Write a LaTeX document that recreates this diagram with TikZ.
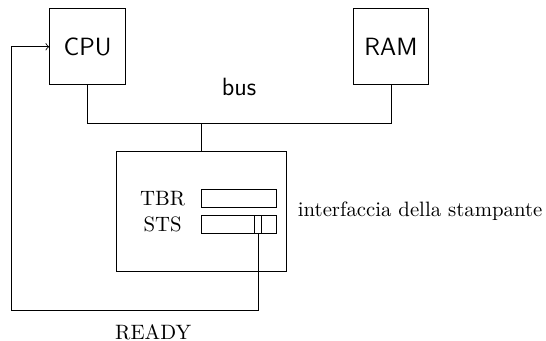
\documentclass[tikz,border=0pt]{standalone}
\usepackage{tikz}
\usetikzlibrary{arrows}
\usetikzlibrary{positioning,calc}
\tikzstyle{unit} = [draw, minimum size=1.28cm, inner sep=0pt, font=\sffamily\large]
\tikzstyle{iface} = [draw, minimum width=2.87cm, minimum height=2.03cm, inner sep=0pt]
\tikzstyle{register} = [draw, minimum width=1.28cm, minimum height=0.31cm, inner sep=0pt]
\tikzstyle{regbit} = [draw, minimum width=0.135cm, minimum height=0.31cm, inner sep=0pt]
\tikzstyle{reglabel} = [inner sep=0pt]
\tikzstyle{wire} = [-, draw=black]
\tikzstyle{signal} = [->, draw=black]

\begin{document}
\begin{tikzpicture}[-,> = to,node distance=1.29cm]
      \useasboundingbox (0,0) rectangle (9.23,-5.76);

      % Units on the bus
      \node[unit] (cpu) at (1.48,-0.79) {CPU};
      \node[unit] (ram) at (6.61,-0.79) {RAM};
      \node[font=\sffamily\large] (buslabel) at (4.04,-1.47) {bus};

      % Interface
      \node[iface] (iface) at (3.40,-3.57) {};
      \node (ifacelabel) [right=0.07cm of iface] {interfaccia della stampante};

      % Registers
      \node[register] (tbr) at (4.04,-3.35) {};
      \node[register] (sts) at (4.04,-3.79) {};
      \node[regbit] (ready) at (4.36,-3.79) {};
      \node[reglabel] (tbrlabel) [left of=tbr] {TBR};
      \node[reglabel] (stslabel) [left of=sts] {STS};

      % Bus lines
      \coordinate (busmid) at (3.40,-2.08);
      \path[wire] (cpu.south) |- (busmid) -| (ram.south);
      \path[wire] (busmid) -- (iface.north);

      % Ready line
      \coordinate (readycorner) at (0.186,-5.24);
      \path[signal] (ready.south) |- (readycorner) |- (cpu.west);
      \node[reglabel] (readylabel) at (2.59,-5.62) {READY};

    \end{tikzpicture}
\end{document}
